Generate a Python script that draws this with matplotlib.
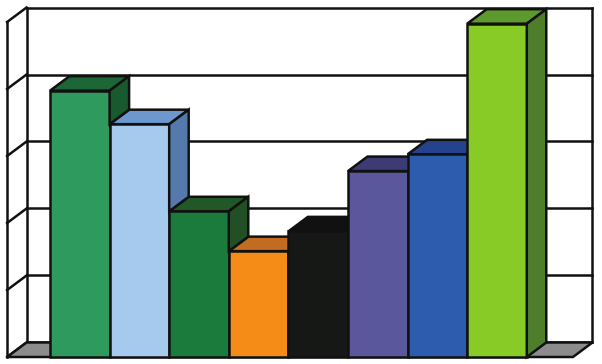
import matplotlib
matplotlib.use('Agg')
import matplotlib.pyplot as plt
from matplotlib.patches import Polygon
import numpy as np

# bar values (0-100 scale, gridlines every 20)
values = [79.5, 69.5, 43.5, 31.6, 37.5, 55.5, 60.5, 99.5]
front_colors = ['#2e9a5e', '#a6caee', '#1b7b3d', '#f58c17', '#151814', '#5b579c', '#2d5cae', '#89cb26']
top_colors = ['#1d6636', '#6d98cf', '#225829', '#c26c22', '#111111', '#3d3b73', '#25428e', '#5d9a2e']
side_colors = ['#185a2e', '#5679ad', '#234f27', '#b05e1a', '#111111', '#3a3770', '#203c80', '#4e7e2c']
grid_vals = [0, 20, 40, 60, 80, 100]

# 3d offset in data units
dx = 0.327
dy = 4.33
ec = '#111111'
lw = 1.8

fig = plt.figure(figsize=(6.02, 3.64), dpi=100)
ax = fig.add_axes([0, 0, 1, 1])
ax.set_xlim(-1.339, 8.762)
ax.set_ylim(-2.09, 106.57)
ax.axis('off')

n = len(values)
x = np.arange(n)
left = -1.22
right = n + 0.275
top = grid_vals[-1]

# back wall and gridlines
for g in grid_vals:
    ax.plot([left + dx, right + dx], [g + dy, g + dy], color=ec, lw=lw, zorder=0.5)
    ax.plot([left, left + dx], [g, g + dy], color=ec, lw=lw, zorder=0.5)
ax.plot([left, left], [0, top], color=ec, lw=lw, zorder=0.5)
ax.plot([left + dx, left + dx], [0 + dy, top + dy], color=ec, lw=lw, zorder=0.5)
ax.plot([right + dx, right + dx], [0 + dy, top + dy], color=ec, lw=lw, zorder=0.5)

# floor
ax.add_patch(Polygon([[left, 0], [right, 0], [right + dx, dy], [left + dx, dy]],
                     closed=True, facecolor='#8c8c8c', edgecolor=ec, lw=lw, zorder=0.6))

# front faces
ax.bar(x, values, width=1.0, color=front_colors, edgecolor=ec, linewidth=lw, zorder=2)

for i, v in enumerate(values):
    xl, xr = i - 0.5, i + 0.5
    # top face
    ax.add_patch(Polygon([[xl, v], [xr, v], [xr + dx, v + dy], [xl + dx, v + dy]],
                         closed=True, facecolor=top_colors[i], edgecolor=ec, lw=lw, zorder=1))
    # visible part of the side face (above the next bar)
    low = values[i + 1] if i + 1 < n else 0
    if v > low:
        ax.add_patch(Polygon([[xr, low], [xr, v], [xr + dx, v + dy], [xr + dx, low + dy]],
                             closed=True, facecolor=side_colors[i], edgecolor=ec, lw=lw, zorder=3))

fig.savefig('out.png', dpi=100)
